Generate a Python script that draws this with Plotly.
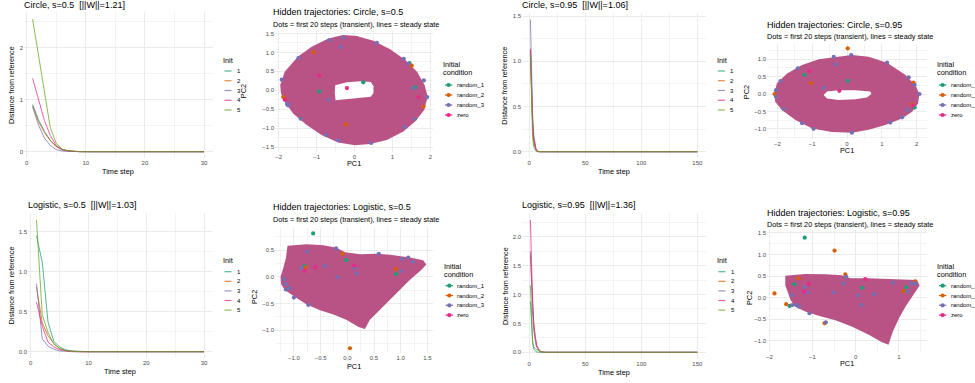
import plotly.graph_objects as go

W, H = 975, 383
FONT = "Liberation Sans, Arial, Helvetica, sans-serif"

# ---------------------------------------------------------------- data
init_ids = ["1", "2", "3", "4", "5"]
ic_ids = ["random_1", "random_2", "random_3", "zero"]

DARK2 = ["#1B9E77", "#D95F02", "#7570B3", "#E7298A", "#66A61E"]
STEADY = "#BA5385"

# distance from reference: transient values, the remaining steps sit at 0
steps_circle_05 = 30
dist_circle_05 = {
    "1": [0.91, 0.61, 0.39, 0.22, 0.10, 0.04, 0.015, 0.005],
    "2": [0.88, 0.58, 0.37, 0.21, 0.10, 0.04, 0.015, 0.005],
    "3": [0.86, 0.51, 0.26, 0.12, 0.04, 0.015, 0.005],
    "4": [1.41, 1.00, 0.60, 0.31, 0.12, 0.04, 0.015, 0.005],
    "5": [2.55, 1.84, 1.12, 0.46, 0.16, 0.05, 0.02, 0.008],
}

steps_circle_095 = 150
dist_circle_095 = {
    "1": [1.10, 0.55, 0.25, 0.10, 0.04, 0.015, 0.005],
    "2": [1.12, 0.60, 0.30, 0.13, 0.05, 0.02, 0.007],
    "3": [1.46, 0.80, 0.40, 0.18, 0.08, 0.03, 0.01],
    "4": [1.14, 0.65, 0.33, 0.15, 0.06, 0.02, 0.008],
    "5": [1.07, 0.45, 0.15, 0.05, 0.02, 0.007],
}

steps_logistic_05 = 30
dist_logistic_05 = {
    "1": [1.45, 1.12, 0.37, 0.13, 0.06, 0.025, 0.01, 0.004],
    "2": [0.81, 0.36, 0.20, 0.10, 0.04, 0.015, 0.005],
    "3": [0.85, 0.16, 0.07, 0.03, 0.01, 0.004],
    "4": [0.62, 0.32, 0.12, 0.06, 0.025, 0.01],
    "5": [1.65, 0.46, 0.24, 0.10, 0.04, 0.015, 0.005],
}

steps_logistic_095 = 150
dist_logistic_095 = {
    "1": [0.88, 0.40, 0.15, 0.06, 0.03, 0.01, 0.004],
    "2": [1.68, 1.20, 0.80, 0.50, 0.30, 0.18, 0.10, 0.06, 0.035, 0.02, 0.01, 0.005],
    "3": [1.75, 1.10, 0.65, 0.38, 0.22, 0.12, 0.07, 0.04, 0.02, 0.01, 0.005],
    "4": [2.29, 1.40, 0.85, 0.50, 0.30, 0.17, 0.10, 0.06, 0.03, 0.015, 0.008],
    "5": [1.16, 0.45, 0.20, 0.10, 0.07, 0.05, 0.04, 0.03, 0.02, 0.01],
}

# steady-state region outlines (PC1, PC2)
circ05_outer_pc1 = [-1.96, -1.84, -1.49, -1.13, -0.69, -0.30, 0.06, 0.50, 0.94, 1.34, 1.65, 1.85,
                    1.93, 1.84, 1.60, 1.29, 0.85, 0.41, 0.01, -0.43, -0.87, -1.27, -1.62, -1.84, -1.94]
circ05_outer_pc2 = [0.14, 0.49, 0.89, 1.15, 1.37, 1.46, 1.43, 1.31, 1.08, 0.80, 0.49, 0.14,
                    -0.17, -0.52, -0.82, -1.09, -1.31, -1.42, -1.45, -1.38, -1.18, -0.91, -0.61, -0.30, -0.08]
circ05_hole_pc1 = [-0.51, -0.20, 0.16, 0.43, 0.50, 0.50, 0.43, 0.07, -0.28, -0.50, -0.52]
circ05_hole_pc2 = [0.13, 0.21, 0.24, 0.22, 0.11, -0.07, -0.17, -0.21, -0.25, -0.26, -0.07]

circ095_outer_pc1 = [-2.09, -2.01, -1.72, -1.29, -0.81, -0.33, 0.14, 0.62, 1.15, 1.67, 1.96, 2.08,
                     2.04, 1.87, 1.58, 1.10, 0.62, 0.14, -0.43, -1.00, -1.48, -1.87, -2.06]
circ095_outer_pc2 = [0.02, 0.31, 0.59, 0.83, 1.00, 1.07, 1.12, 1.07, 0.90, 0.55, 0.26, 0.00,
                     -0.27, -0.51, -0.70, -0.89, -1.03, -1.11, -1.09, -0.99, -0.75, -0.46, -0.22]
circ095_hole_pc1 = [-0.67, -0.57, -0.24, 0.24, 0.67, 0.70, 0.57, 0.24, -0.24, -0.57]
circ095_hole_pc2 = [-0.03, 0.07, 0.11, 0.105, 0.07, 0.00, -0.10, -0.15, -0.17, -0.13]

log05_outer_pc1 = [-1.12, -0.76, -0.45, -0.20, -0.04, 0.24, 0.55, 0.80, 1.17, 1.42, 1.48, 1.39,
                   1.17, 0.92, 0.67, 0.42, 0.33, 0.21, -0.01, -0.26, -0.51, -0.76, -0.98, -1.17,
                   -1.24, -1.25, -1.20, -1.15]
log05_outer_pc2 = [0.58, 0.61, 0.59, 0.54, 0.46, 0.42, 0.43, 0.41, 0.36, 0.31, 0.23, 0.13,
                   -0.06, -0.31, -0.56, -0.81, -0.98, -0.94, -0.81, -0.71, -0.63, -0.52, -0.38, -0.25,
                   -0.14, 0.00, 0.16, 0.35]

log095_outer_pc1 = [-1.63, -1.17, -0.70, -0.32, -0.12, 0.30, 0.76, 1.23, 1.42, 1.48, 1.34, 1.15,
                    1.00, 0.86, 0.76, 0.61, 0.30, -0.08, -0.47, -0.86, -1.17, -1.40, -1.51, -1.57, -1.63]
log095_outer_pc2 = [0.51, 0.55, 0.54, 0.52, 0.45, 0.45, 0.43, 0.42, 0.41, 0.28, 0.06, -0.21,
                    -0.48, -0.78, -1.09, -1.03, -0.86, -0.67, -0.52, -0.42, -0.32, -0.21, -0.05, 0.10, 0.29]

# transient dots (first 20 steps) that are visible, per initial condition: (PC1 list, PC2 list)
circ05_dots = {
    "random_1": ([1.45, 1.60, -0.93, 0.23], [0.72, 0.08, -0.03, 0.21]),
    "random_2": ([-1.08, 1.51, 1.82, -0.22, -1.88], [1.00, 0.65, -0.43, -0.90, -0.18]),
    "random_3": ([-0.66, -0.30, -0.37, -1.48, 0.59, 1.30, 1.43, 1.83, 1.54, 1.92, 1.60, 1.32,
                  0.44, -0.42, -0.75, -1.42, -1.78, -1.75, -1.92, -0.68],
                 [1.32, 1.39, 1.14, 0.85, 1.25, 0.83, 0.70, 0.26, 0.06, -0.18, -0.75, -0.97,
                  -1.39, -1.32, -1.18, -0.75, -0.36, -0.40, 0.28, -0.25]),
    "zero": ([1.69, -1.84, -0.93, -0.20], [-0.18, -0.25, 0.39, 0.06]),
}
circ095_dots = {
    "random_1": ([-1.22, 0.02, 1.94], [0.55, 0.38, -0.39]),
    "random_2": ([0.02, -1.03, -2.08, 1.91, 1.87], [1.31, 0.31, 0.00, 0.33, -0.30]),
    "random_3": ([0.12, -0.38, -0.32, 1.15, -1.41, -1.91, -0.67, -2.04, -2.04, 1.77, 1.94, 2.08,
                  1.74, 1.58, 1.24, 0.14, -0.96, -1.29, -1.82],
                 [1.12, 1.07, 0.85, 0.90, 0.74, 0.37, 0.18, 0.11, -0.08, 0.48, 0.26, 0.00,
                  -0.46, -0.67, -0.82, -1.11, -1.00, -0.84, -0.43]),
    "zero": ([-1.08, -0.22, 1.89], [0.66, 0.09, -0.33]),
}
log05_dots = {
    "random_1": ([-0.64, -0.02, -0.80, 0.91], [0.81, 0.31, 0.20, 0.05]),
    "random_2": ([-0.09, -0.78, 0.91, 0.05], [0.43, 0.17, 0.14, -1.34]),
    "random_3": ([-0.75, -0.21, 0.59, 1.02, 1.14, 1.23, -0.85, -0.42, 0.14, 0.17, 1.00, -0.18,
                  -1.18, -1.15, -1.08, -1.15, -1.00, -0.73],
                 [0.47, 0.53, 0.43, 0.33, 0.36, 0.28, 0.16, 0.20, 0.16, 0.06, 0.11, -0.01,
                  -0.05, -0.14, -0.21, -0.24, -0.39, -0.53]),
    "zero": ([-0.80, -0.60, 0.13], [0.11, 0.18, 0.21]),
}
log095_dots = {
    "random_1": ([-1.18, -1.42, 0.15, 1.17, -1.53], [1.39, 0.31, 0.23, 0.24, -0.19]),
    "random_2": ([-0.49, -0.24, -1.32, -1.88, 1.38, 1.11, -1.61, -0.72],
                 [1.09, 0.54, 0.45, 0.10, 0.38, 0.15, -0.15, -0.59]),
    "random_3": ([-0.22, -1.18, -1.11, -1.47, -0.51, -0.28, 0.05, 0.43, 0.13, 0.86, 1.29, 1.38,
                  1.20, -1.47, -1.38, -1.30, -1.07, -0.69],
                 [0.48, 0.25, 0.12, 0.06, 0.12, 0.33, 0.05, 0.08, -0.17, 0.35, 0.33, 0.33,
                  0.14, -0.17, -0.17, -0.21, -0.36, -0.57]),
    "zero": ([-1.09, -1.19, 0.22], [0.32, 0.14, 0.43]),
}

titles_dist = ["Circle, s=0.5 \u00a0[||W||=1.21]", "Circle, s=0.95 \u00a0[||W||=1.06]",
               "Logistic, s=0.5 \u00a0[||W||=1.03]", "Logistic, s=0.95 \u00a0[||W||=1.36]"]
titles_pca = ["Hidden trajectories: Circle, s=0.5", "Hidden trajectories: Circle, s=0.95",
              "Hidden trajectories: Logistic, s=0.5", "Hidden trajectories: Logistic, s=0.95"]
subtitle_pca = "Dots = first 20 steps (transient), lines = steady state"

# ---------------------------------------------------------------- figure
fig = go.Figure()


def ax_names(k):
    s = "" if k == 1 else str(k)
    return "x" + s, "y" + s, "xaxis" + s, "yaxis" + s


def add_dist_panel(k, dist, nsteps):
    xa, ya, _, _ = ax_names(k)
    steps = list(range(1, nsteps + 1))
    for i, key in enumerate(init_ids):
        vals = dist[key]
        yv = vals + [0.0] * (nsteps - len(vals))
        fig.add_trace(go.Scatter(x=steps, y=yv, mode="lines", name=key,
                                 line=dict(color=DARK2[i], width=1.0), opacity=0.75,
                                 xaxis=xa, yaxis=ya, showlegend=False, hoverinfo="skip"))


def add_pca_panel(k, opc1, opc2, hpc1, hpc2, dots):
    xa, ya, _, _ = ax_names(k)
    fig.add_trace(go.Scatter(x=opc1 + opc1[:1], y=opc2 + opc2[:1], mode="lines", fill="toself",
                             fillcolor=STEADY, line=dict(width=0, color=STEADY),
                             xaxis=xa, yaxis=ya, showlegend=False, hoverinfo="skip"))
    if hpc1:
        fig.add_trace(go.Scatter(x=hpc1 + hpc1[:1], y=hpc2 + hpc2[:1], mode="lines", fill="toself",
                                 fillcolor="white", line=dict(width=0, color="white"),
                                 xaxis=xa, yaxis=ya, showlegend=False, hoverinfo="skip"))
    for i, ic in enumerate(ic_ids):
        px, py = dots[ic]
        fig.add_trace(go.Scatter(x=px, y=py, mode="markers", name=ic,
                                 marker=dict(color=DARK2[i], size=4.2, line=dict(width=0)),
                                 xaxis=xa, yaxis=ya, showlegend=False, hoverinfo="skip"))


add_dist_panel(1, dist_circle_05, steps_circle_05)
add_pca_panel(2, circ05_outer_pc1, circ05_outer_pc2, circ05_hole_pc1, circ05_hole_pc2, circ05_dots)
add_dist_panel(3, dist_circle_095, steps_circle_095)
add_pca_panel(4, circ095_outer_pc1, circ095_outer_pc2, circ095_hole_pc1, circ095_hole_pc2, circ095_dots)
add_dist_panel(5, dist_logistic_05, steps_logistic_05)
add_pca_panel(6, log05_outer_pc1, log05_outer_pc2, None, None, log05_dots)
add_dist_panel(7, dist_logistic_095, steps_logistic_095)
add_pca_panel(8, log095_outer_pc1, log095_outer_pc2, None, None, log095_dots)

GRID = "#EBEBEB"
MINOR = "#F3F3F3"


def base_axis(dtick, minor_dtick, fmt, rng, dom, anchor):
    return dict(range=rng, domain=dom, anchor=anchor, dtick=dtick, tick0=0, tickformat=fmt,
                showgrid=True, gridcolor=GRID, gridwidth=1, zeroline=False, showline=False,
                ticks="", ticklen=0, tickfont=dict(size=6, color="#4D4D4D", family=FONT),
                minor=dict(dtick=minor_dtick, tick0=0, showgrid=True, gridcolor=MINOR, gridwidth=0.6),
                fixedrange=True)


layout_axes = {}
xvals_d = {1: (0, 30), 3: (0, 150), 5: (0, 30), 7: (0, 150)}


def set_dist_axes(k, xa_px, xb_px, xrange, ya_py, yb_py, yvals, yrange, xd, xm, yd, ym, yfmt):
    xa, ya, xkey, ykey = ax_names(k)
    sx = (xb_px - xa_px) / (xvals_d[k][1] - xvals_d[k][0])
    l = xa_px + (xrange[0] - xvals_d[k][0]) * sx
    r = xa_px + (xrange[1] - xvals_d[k][0]) * sx
    sy = (yb_py - ya_py) / (yvals[1] - yvals[0])
    b = ya_py + (yrange[0] - yvals[0]) * sy
    t = ya_py + (yrange[1] - yvals[0]) * sy
    layout_axes[xkey] = base_axis(xd, xm, "d", xrange, [l / W, r / W], ya)
    layout_axes[ykey] = base_axis(yd, ym, yfmt, yrange, [1 - b / H, 1 - t / H], xa)
    return l, r, t, b


boxes = {}
boxes[1] = set_dist_axes(1, 26.7, 204.0, [-0.45, 31.45], 151.7, 47.7, (0, 2), [-0.128, 2.68], 10, 5, 1, 0.5, "d")
boxes[3] = set_dist_axes(3, 529.3, 697.3, [-6.45, 157.45], 151.7, 16.0, (0, 1.5), [-0.073, 1.533], 50, 25, 0.5, 0.25, ".1f")
boxes[5] = set_dist_axes(5, 30.7, 204.0, [-0.45, 31.45], 351.7, 231.7, (0, 1.5), [-0.0825, 1.7325], 10, 5, 0.5, 0.25, ".1f")
boxes[7] = set_dist_axes(7, 529.3, 697.3, [-6.45, 157.45], 352.3, 236.7, (0, 2), [-0.1145, 2.4045], 50, 25, 0.5, 0.25, ".1f")


def set_pca_axes(k, x0, y0, s, L, R, T, B, xd, xm, xfmt, yd, ym, yfmt):
    xa, ya, xkey, ykey = ax_names(k)
    xr = [(L - x0) / s, (R - x0) / s]
    yr = [(y0 - B) / s, (y0 - T) / s]
    layout_axes[xkey] = base_axis(xd, xm, xfmt, xr, [L / W, R / W], ya)
    layout_axes[ykey] = base_axis(yd, ym, yfmt, yr, [1 - B / H, 1 - T / H], xa)
    return L, R, T, B


boxes[2] = set_pca_axes(2, 354.5, 90.3, 37.9, 275, 433, 31, 152, 1, 0.5, "d", 0.5, 0.25, ".1f")
boxes[4] = set_pca_axes(4, 847.0, 94.0, 34.83, 767, 927, 44, 139, 1, 0.5, "d", 0.5, 0.25, ".1f")
boxes[6] = set_pca_axes(6, 347.3, 276.7, 53.4, 275, 433, 228, 353, 0.5, 0.25, ".1f", 0.5, 0.25, ".1f")
boxes[8] = set_pca_axes(8, 855.7, 297.7, 43.2, 767, 927, 230, 352, 1, 0.5, "d", 0.5, 0.25, ".1f")

fig.update_layout(**layout_axes)


# ---------------------------------------------------------------- text helpers
def txt(x, y, s, size, color="black", xanchor="left", yanchor="middle", angle=0):
    fig.add_annotation(x=x / W, y=1 - y / H, xref="paper", yref="paper", text=s, showarrow=False,
                       font=dict(size=size, color=color, family=FONT), xanchor=xanchor,
                       yanchor=yanchor, textangle=angle, borderpad=0, borderwidth=0, align="left")


def line_key(x0, x1, y, color, opacity):
    fig.add_shape(type="line", xref="paper", yref="paper", x0=x0 / W, x1=x1 / W,
                  y0=1 - y / H, y1=1 - y / H, line=dict(color=color, width=1.2), opacity=opacity)


def dot_key(cx, cy, color, r=2.1):
    fig.add_shape(type="circle", xref="paper", yref="paper", xsizemode="pixel", ysizemode="pixel",
                  xanchor=cx / W, yanchor=1 - cy / H, x0=-r, x1=r, y0=-r, y1=r,
                  fillcolor=color, line=dict(width=0))


def init_legend(tx, ty, y0, step):
    txt(round(tx), ty, "<span style='color:#000000'>Init</span>", 7.3)
    for i, lab in enumerate(init_ids):
        yy = y0 + i * step
        line_key(tx + 1.2, tx + 8.2, yy, DARK2[i], 0.75)
        txt(tx + 13.4, yy, lab, 6)


def ic_legend(tx, ty, y0, step):
    txt(round(tx), ty, "<span style='color:#000000'>Initial</span>", 7.3)
    txt(round(tx), ty + 8.0, "<span style='color:#000000'>condition</span>", 7.3)
    for i, lab in enumerate(ic_ids):
        yy = y0 + i * step
        line_key(tx + 1.6, tx + 9.0, yy, DARK2[i], 1.0)
        dot_key(tx + 5.3, yy, DARK2[i])
        txt(tx + 13.4, yy, lab, 6)


# titles
txt(24.0, 4.5, titles_dist[0], 9)
txt(521.7, 4.5, titles_dist[1], 9)
txt(28.3, 204.8, titles_dist[2], 9)
txt(521.7, 204.8, titles_dist[3], 9)

txt(273.3, 12.3, titles_pca[0], 9)
txt(273.3, 24.2, subtitle_pca, 7.3)
txt(767.3, 25.0, titles_pca[1], 9)
txt(767.3, 36.5, subtitle_pca, 7.3)
txt(273.3, 207.3, titles_pca[2], 9)
txt(273.3, 219.3, subtitle_pca, 7.3)
txt(767.3, 213.3, titles_pca[3], 9)
txt(767.3, 224.8, subtitle_pca, 7.3)

# axis titles
for k, ytx in [(1, 11.7), (3, 505.0), (5, 11.7), (7, 505.0)]:
    l, r, t, b = boxes[k]
    txt((l + r) / 2, b + 13.3, "Time step", 7.3, xanchor="center")
    txt(ytx, (t + b) / 2, "Distance from reference", 7.3, xanchor="center", angle=-90)

for k, ytx, yty, xty in [(2, 243.5, 91.7, 163.3), (4, 746.7, 92.5, 150.7),
                         (6, 254.0, 297.0, 366.7), (8, 749.0, 298.0, 363.3)]:
    l, r, t, b = boxes[k]
    txt((l + r) / 2, xty, "PC1", 7.3, xanchor="center")
    txt(ytx, yty, "PC2", 7.3, xanchor="center", angle=-90)

# legends
init_legend(223.3, 60.0, 71.0, 9.75)
init_legend(716.7, 60.0, 71.0, 9.75)
init_legend(223.3, 260.0, 271.7, 9.6)
init_legend(717.2, 260.0, 271.7, 9.6)

ic_legend(443.3, 65.0, 85.0, 10.0)
ic_legend(937.3, 65.0, 85.0, 10.0)
ic_legend(444.0, 266.7, 285.7, 9.8)
ic_legend(937.3, 266.7, 285.7, 9.8)

fig.update_layout(width=W, height=H, margin=dict(l=0, r=0, t=0, b=0),
                  paper_bgcolor="white", plot_bgcolor="white", showlegend=False,
                  font=dict(family=FONT, size=7, color="black"))

fig.write_html("out.html", config={"displayModeBar": False},
               post_script="document.body.style.margin='0px';document.body.style.overflow='hidden';")
